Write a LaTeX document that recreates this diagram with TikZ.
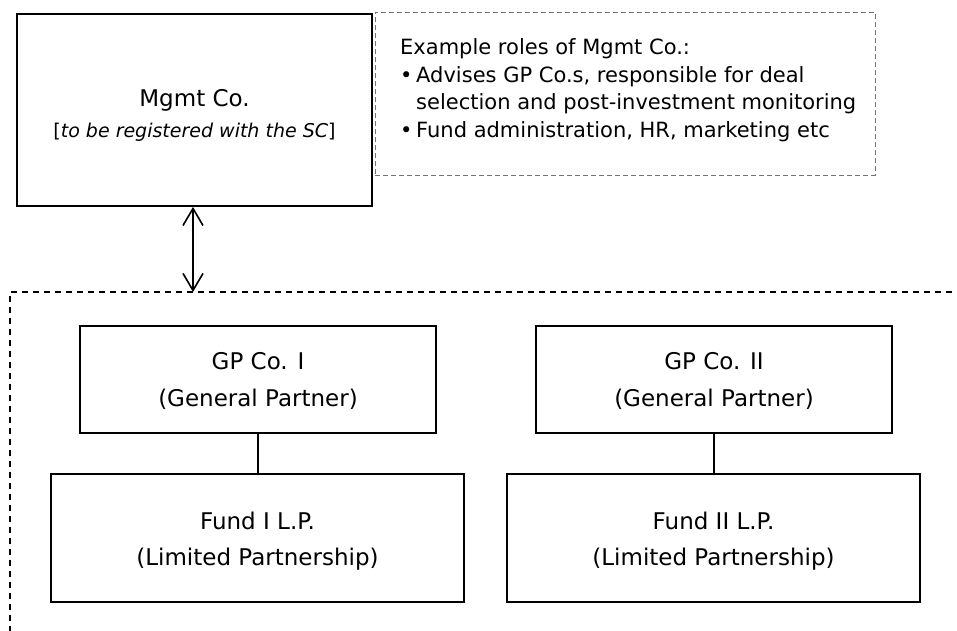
\documentclass[tikz,border=0pt]{standalone}
\usepackage{fontspec}
\setmainfont{DejaVu Sans}
\usetikzlibrary{arrows.meta}

\tikzset{
  entity/.style={draw, rectangle, line width=1.8pt, inner sep=0pt},
  maintext/.style={font=\fontsize{23}{28}\selectfont, anchor=base, inner sep=0pt},
  subtext/.style={font=\fontsize{19}{23}\selectfont, anchor=base, inner sep=0pt},
  notetext/.style={font=\fontsize{21}{26}\selectfont, anchor=base west, inner sep=0pt},
  notebox/.style={draw=black!55, rectangle, line width=1pt, dash pattern=on 5pt off 3pt, inner sep=0pt},
  groupline/.style={line width=1.8pt, dash pattern=on 6pt off 5pt},
  link/.style={line width=1.5pt},
  twoway/.style={line width=1.6pt, {Straight Barb[length=17pt,width=20pt]}-{Straight Barb[length=17pt,width=20pt]}}
}

\newcommand{\bulletitem}{\makebox[16pt][l]{•}}

\begin{document}
\begin{tikzpicture}[x=1pt,y=-1pt]
  \useasboundingbox (0,0) rectangle (957,630);
  \fill[white] (0,0) rectangle (957,630);

  % management company
  \node[entity, minimum width=355pt, minimum height=192pt] (mgmt) at (194.5,110) {};
  \node[maintext] (mgmtname) at (194.5,106) {Mgmt Co.};
  \node[subtext] (mgmtnote) at (194.5,137) {[\textit{to be registered with the SC}]};

  % roles of the management company
  \node[notebox, minimum width=500pt, minimum height=163pt] (roles) at (625,93.5) {};
  \node[notetext] (roles1) at (400,54) {Example roles of Mgmt Co.:};
  \node[notetext] (roles2) at (400,82) {\bulletitem Advises GP Co.s, responsible for deal};
  \node[notetext] (roles3) at (416,109) {selection and post-investment monitoring};
  \node[notetext] (roles4) at (400,137) {\bulletitem Fund administration, HR, marketing etc};

  % fund group boundary
  \coordinate (grouptop) at (193,292);
  \coordinate (groupcorner) at (10,292);
  \coordinate (groupleft) at (10,632);
  \coordinate (groupright) at (959,292);
  \draw[groupline] (groupleft) -- (groupcorner) -- (groupright);

  % link between the management company and the fund group
  \draw[twoway] (mgmt.south -| grouptop) -- (grouptop);

  % general partners
  \node[entity, minimum width=356pt, minimum height=107pt] (gp1) at (258,379.5) {};
  \node[maintext] (gp1a) at (258,369) {GP Co. I};
  \node[maintext] (gp1b) at (258,406) {(General Partner)};

  \node[entity, minimum width=356pt, minimum height=107pt] (gp2) at (714,379.5) {};
  \node[maintext] (gp2a) at (714,369) {GP Co. II};
  \node[maintext] (gp2b) at (714,406) {(General Partner)};

  % funds
  \node[entity, minimum width=413pt, minimum height=128pt] (fund1) at (257.5,538) {};
  \node[maintext] (fund1a) at (257.5,529) {Fund I L.P.};
  \node[maintext] (fund1b) at (257.5,565) {(Limited Partnership)};

  \node[entity, minimum width=413pt, minimum height=128pt] (fund2) at (713.5,538) {};
  \node[maintext] (fund2a) at (713.5,529) {Fund II L.P.};
  \node[maintext] (fund2b) at (713.5,565) {(Limited Partnership)};

  % partner-to-fund links
  \draw[link] (gp1.south) -- (gp1.south |- fund1.north);
  \draw[link] (gp2.south) -- (gp2.south |- fund2.north);
\end{tikzpicture}
\end{document}
